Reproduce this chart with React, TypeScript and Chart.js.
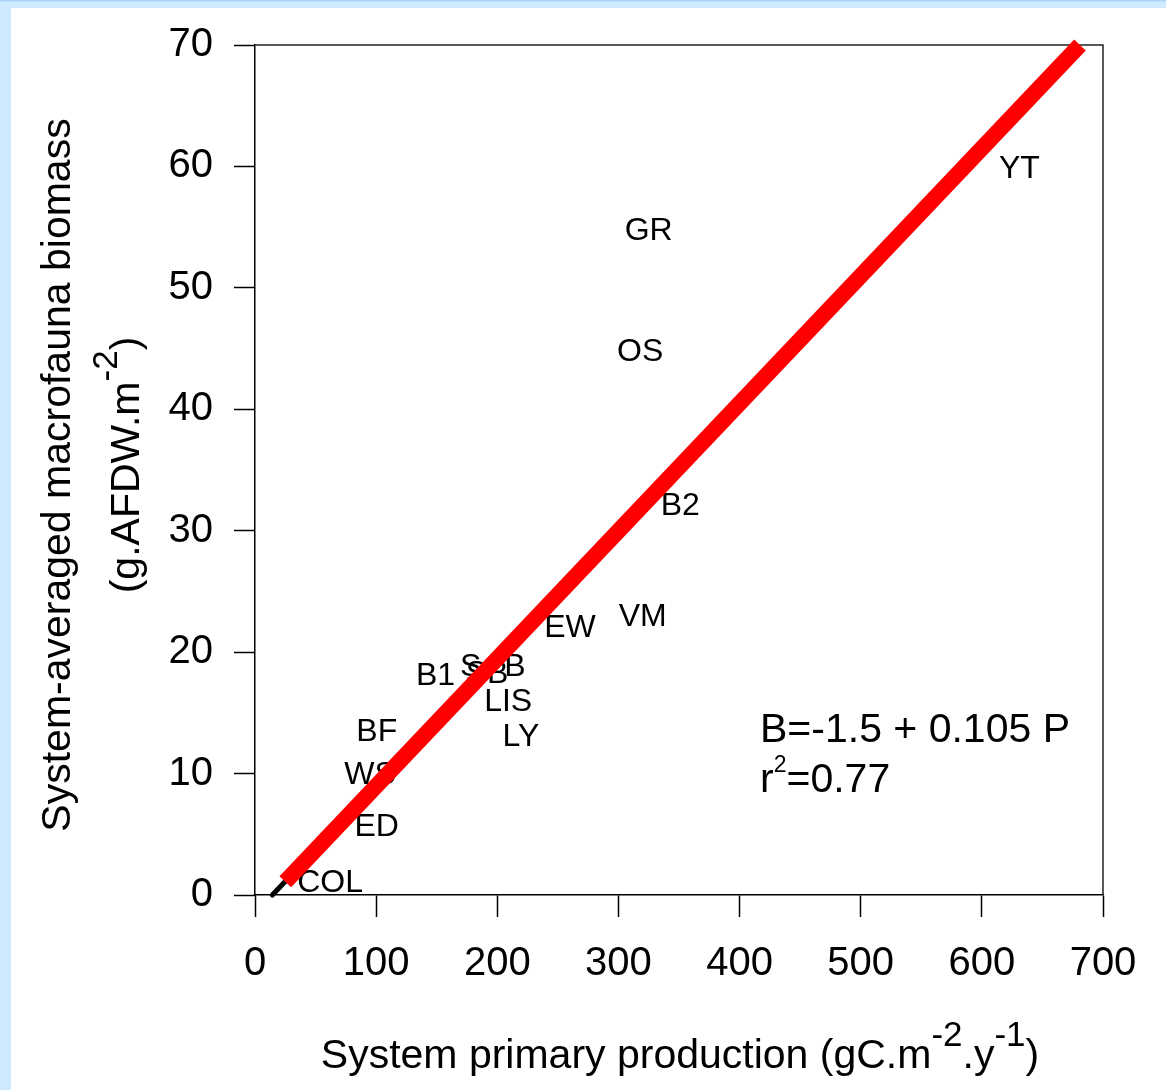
import React, { useEffect, useRef } from 'react';
import { Chart, registerables } from 'chart.js';

Chart.register(...registerables);

// Site labels (text placed at each system's position)
const siteNames = ['YT', 'GR', 'OS', 'B2', 'VM', 'EW', 'B1', 'S', 'SB', 'B', 'LIS', 'LY', 'BF', 'WS', 'ED', 'COL'];
const production = [631, 325, 318, 351, 320, 260, 149, 178, 191.5, 214.5, 209, 219.5, 100.5, 95, 100.5, 62];
const biomass = [59.8, 54.7, 44.7, 32.0, 22.9, 22.0, 18.0, 18.8, 18.2, 18.8, 15.9, 13.0, 13.4, 9.9, 5.6, 1.0];

// Regression line B = -1.5 + 0.105 P (end points)
const fitX = [25, 681];
const fitY = [1.1, 70];
// short black segment under the red line near the origin
const blackX = [14.3, 40];
const blackY = [0, 2.7];

const xTickValues = [0, 100, 200, 300, 400, 500, 600, 700];
const yTickValues = [0, 10, 20, 30, 40, 50, 60, 70];

const equationLine1 = 'B=-1.5 + 0.105 P';
const equationLine2 = ['r', '2', '=0.77'];

const FONT = '"Liberation Sans", Arial, Helvetica, sans-serif';

type Seg = { text: string; size: number; dy: number };

function drawRich(ctx: CanvasRenderingContext2D, segs: Seg[], x: number, y: number, align: 'left' | 'center') {
  let total = 0;
  const widths = segs.map((s) => {
    ctx.font = `${s.size}px ${FONT}`;
    const w = ctx.measureText(s.text).width;
    total += w;
    return w;
  });
  let cx = align === 'center' ? x - total / 2 : x;
  ctx.textAlign = 'left';
  ctx.textBaseline = 'alphabetic';
  segs.forEach((s, i) => {
    ctx.font = `${s.size}px ${FONT}`;
    ctx.fillText(s.text, cx, y + s.dy);
    cx += widths[i];
  });
}

const decorPlugin = {
  id: 'decor',
  beforeDraw(chart: any) {
    const ctx = chart.ctx as CanvasRenderingContext2D;
    ctx.save();
    ctx.fillStyle = '#cfeaff';
    ctx.fillRect(0, 0, chart.width, chart.height);
    ctx.fillStyle = '#acd3f3';
    ctx.fillRect(0, 0, chart.width, 1.5);
    ctx.fillStyle = '#ffffff';
    ctx.fillRect(11, 8, chart.width - 11, chart.height - 8);
    ctx.restore();
  },
  beforeDatasetsDraw(chart: any) {
    const ctx = chart.ctx as CanvasRenderingContext2D;
    const xs = chart.scales.x;
    const ys = chart.scales.y;
    const area = chart.chartArea;
    ctx.save();
    // top and right frame
    ctx.strokeStyle = '#222';
    ctx.lineWidth = 1.5;
    ctx.beginPath();
    ctx.moveTo(area.left, area.top);
    ctx.lineTo(area.right, area.top);
    ctx.lineTo(area.right, area.bottom);
    ctx.stroke();

    // site labels
    ctx.fillStyle = '#000';
    ctx.font = `32px ${FONT}`;
    ctx.textAlign = 'center';
    ctx.textBaseline = 'middle';
    siteNames.forEach((name, i) => {
      ctx.fillText(name, xs.getPixelForValue(production[i]), ys.getPixelForValue(biomass[i]));
    });

    // equation
    drawRich(ctx, [{ text: equationLine1, size: 41, dy: 0 }], 760, 742, 'left');
    drawRich(
      ctx,
      [
        { text: equationLine2[0], size: 41, dy: 0 },
        { text: equationLine2[1], size: 23, dy: -20 },
        { text: equationLine2[2], size: 41, dy: 0 },
      ],
      760,
      792,
      'left'
    );

    // x title
    drawRich(
      ctx,
      [
        { text: 'System primary production (gC.m', size: 41, dy: 0 },
        { text: '-2', size: 35, dy: -22 },
        { text: '.y', size: 41, dy: 0 },
        { text: '-1', size: 35, dy: -22 },
        { text: ')', size: 41, dy: 0 },
      ],
      680,
      1068,
      'center'
    );

    // y title
    ctx.save();
    ctx.translate(70, 475);
    ctx.rotate(-Math.PI / 2);
    drawRich(ctx, [{ text: 'System-averaged macrofauna biomass', size: 41, dy: 0 }], 0, 0, 'center');
    ctx.restore();
    ctx.save();
    ctx.translate(139, 465);
    ctx.rotate(-Math.PI / 2);
    drawRich(
      ctx,
      [
        { text: '(g.AFDW.m', size: 41, dy: 0 },
        { text: '-2', size: 35, dy: -22 },
        { text: ')', size: 41, dy: 0 },
      ],
      0,
      0,
      'center'
    );
    ctx.restore();
    ctx.restore();
  },
};

export default function App() {
  const canvasRef = useRef<HTMLCanvasElement | null>(null);

  useEffect(() => {
    if (!canvasRef.current) return;
    const chart = new Chart(canvasRef.current, {
      type: 'scatter',
      data: {
        datasets: [
          {
            label: 'fit',
            data: fitX.map((x, i) => ({ x, y: fitY[i] })),
            showLine: true,
            borderColor: '#ff0000',
            borderWidth: 16,
            borderCapStyle: 'butt',
            pointRadius: 0,
            clip: false,
            order: 0,
          } as any,
          {
            label: 'fit-black',
            data: blackX.map((x, i) => ({ x, y: blackY[i] })),
            showLine: true,
            borderColor: '#000000',
            borderWidth: 5,
            borderCapStyle: 'round',
            pointRadius: 0,
            clip: false,
            order: 1,
          } as any,
          {
            label: 'sites',
            data: production.map((x, i) => ({ x, y: biomass[i] })),
            pointRadius: 0,
            showLine: false,
            order: 2,
          } as any,
        ],
      },
      options: {
        animation: false,
        responsive: false,
        devicePixelRatio: 1,
        layout: { padding: { left: 0, top: 44, right: 63, bottom: 0 } },
        plugins: { legend: { display: false }, tooltip: { enabled: false } },
        scales: {
          x: {
            type: 'linear',
            min: 0,
            max: 700,
            afterBuildTicks: (s: any) => {
              s.ticks = xTickValues.map((v) => ({ value: v }));
            },
            afterFit: (s: any) => {
              s.height = 195;
            },
            ticks: {
              color: '#000',
              font: { family: FONT, size: 40 },
              padding: 23,
              maxRotation: 0,
            },
            grid: {
              drawOnChartArea: false,
              drawTicks: true,
              tickLength: 22,
              tickColor: '#000',
              tickWidth: 1.5,
            },
            border: { display: true, color: '#000', width: 1.5 },
          },
          y: {
            type: 'linear',
            min: 0,
            max: 70,
            afterBuildTicks: (s: any) => {
              s.ticks = yTickValues.map((v) => ({ value: v }));
            },
            afterFit: (s: any) => {
              s.width = 255;
            },
            ticks: {
              color: '#000',
              font: { family: FONT, size: 40 },
              padding: 21,
            },
            grid: {
              drawOnChartArea: false,
              drawTicks: true,
              tickLength: 21,
              tickColor: '#000',
              tickWidth: 1.5,
            },
            border: { display: true, color: '#000', width: 1.5 },
          },
        },
      } as any,
      plugins: [decorPlugin],
    });
    return () => chart.destroy();
  }, []);

  return (
    <div style={{ position: 'fixed', left: 0, top: 0, width: 1166, height: 1090 }}>
      <canvas ref={canvasRef} width={1166} height={1090} style={{ display: 'block' }} />
    </div>
  );
}
